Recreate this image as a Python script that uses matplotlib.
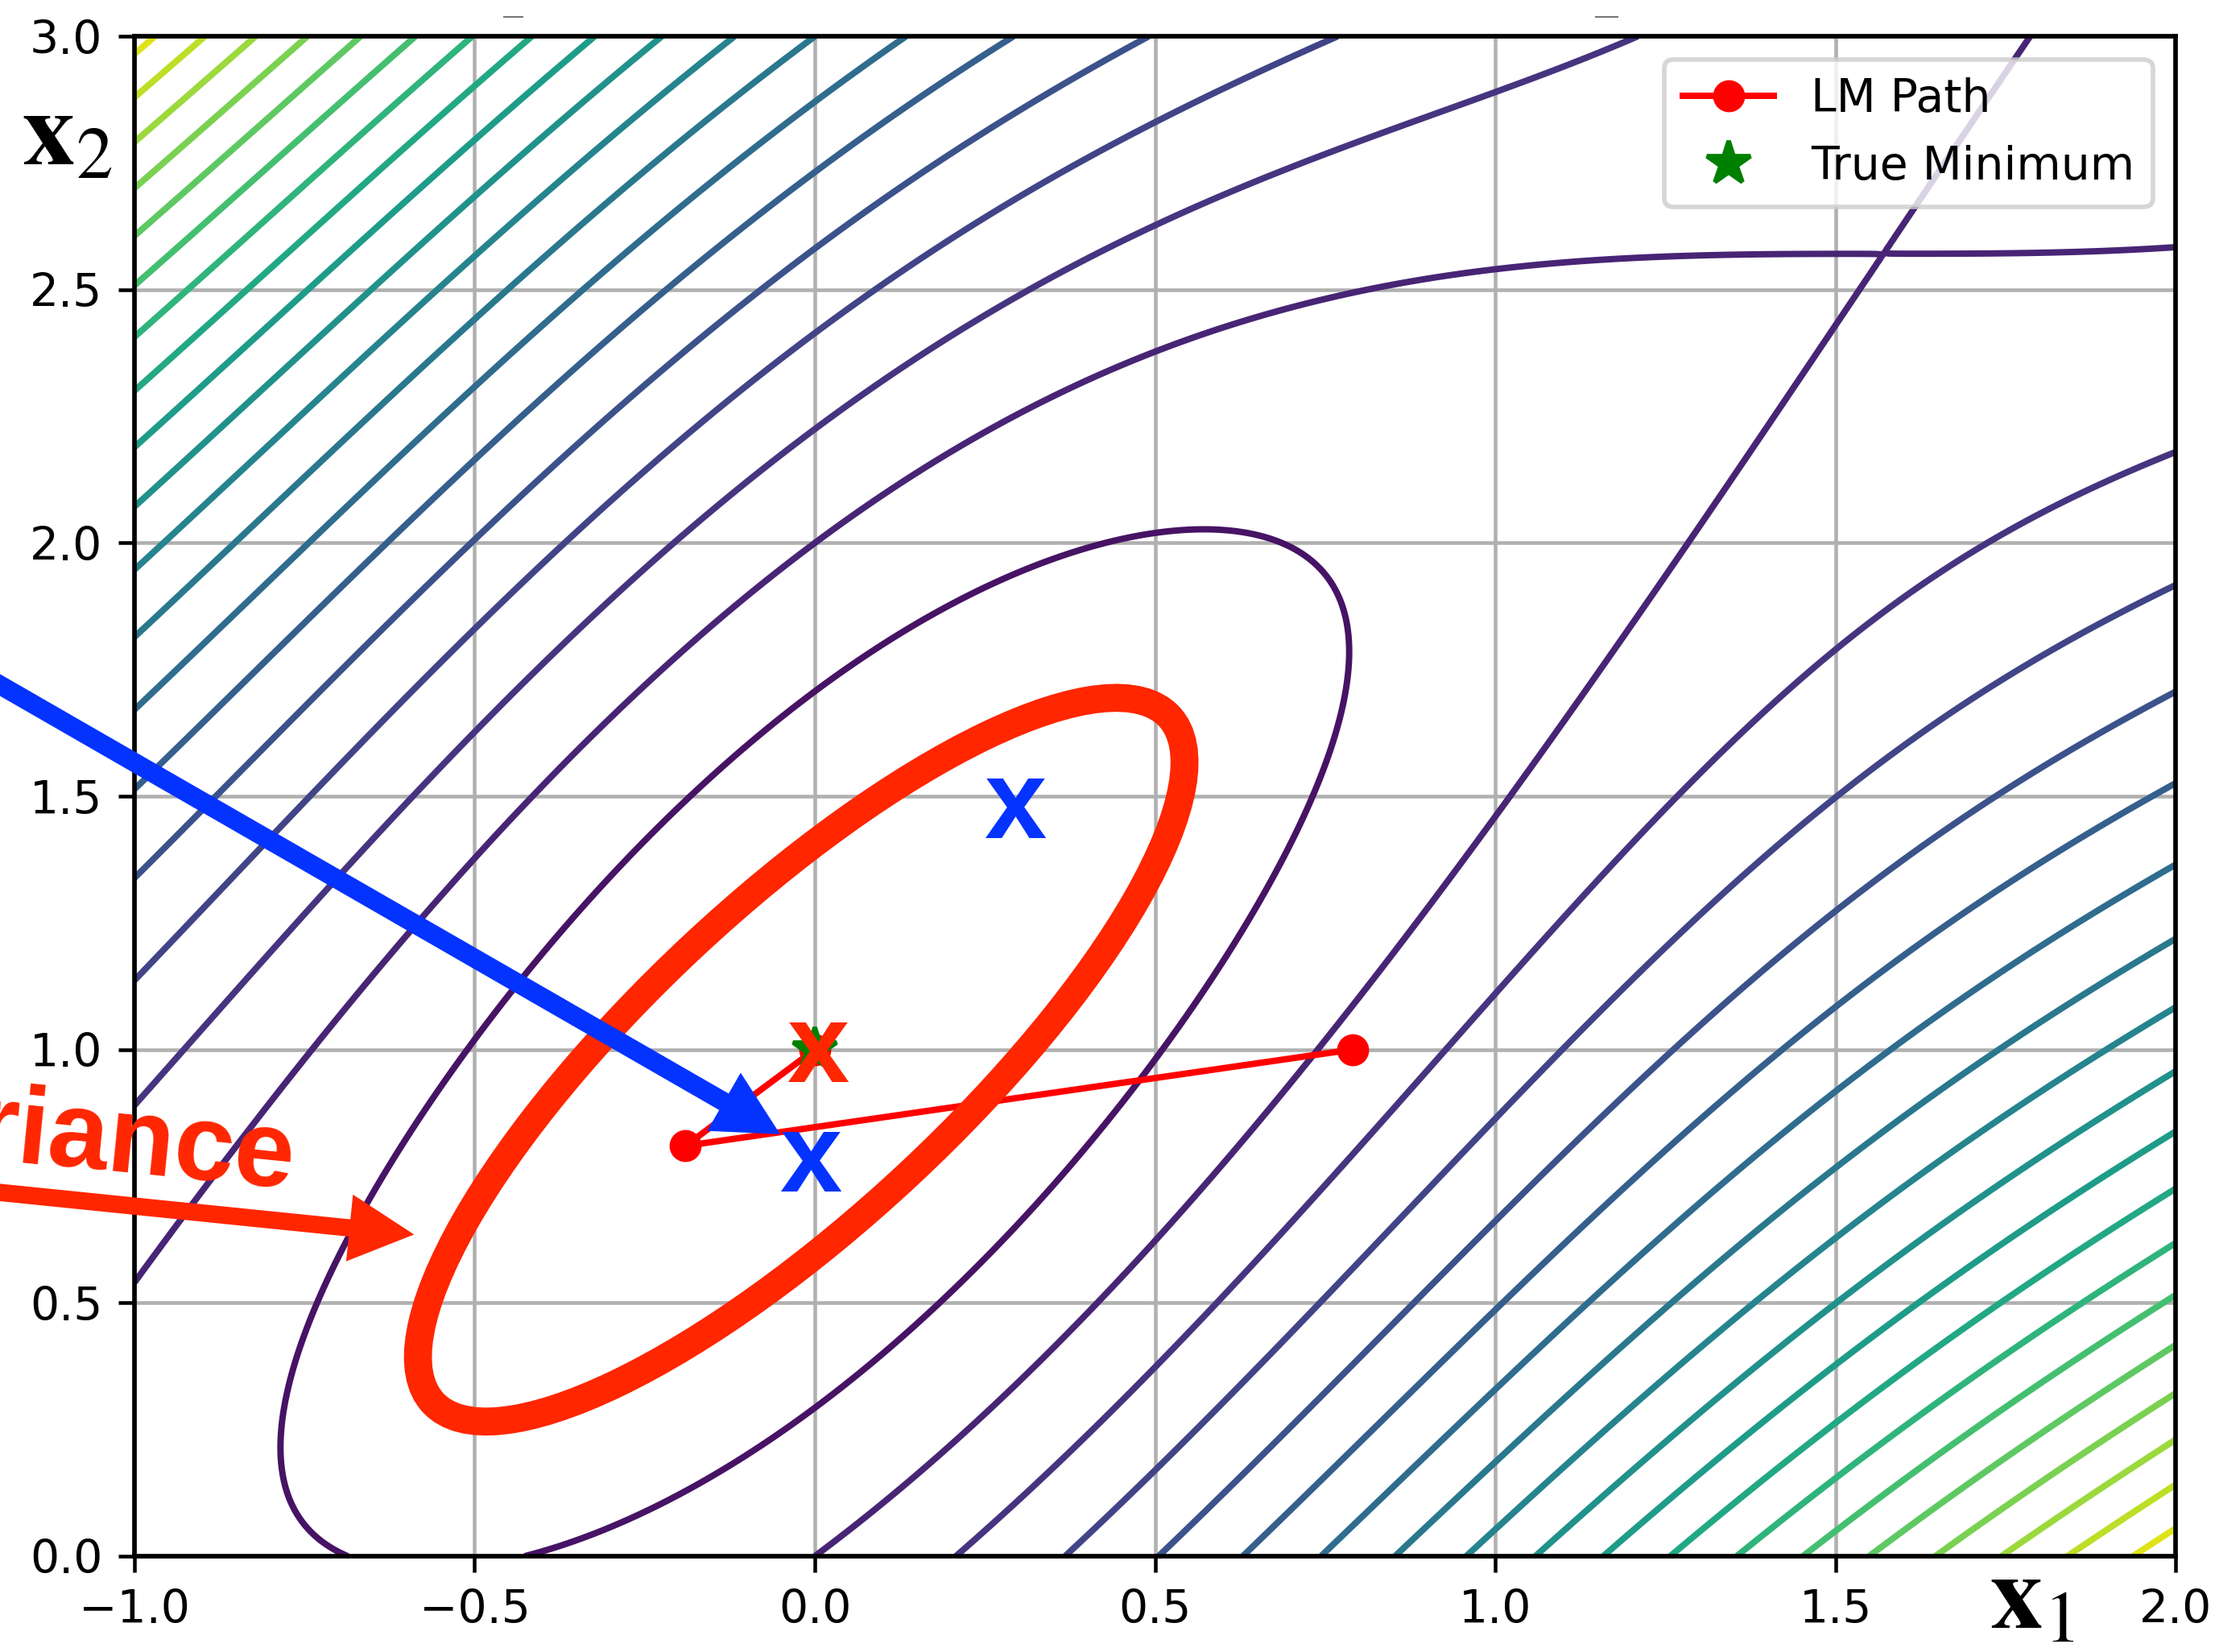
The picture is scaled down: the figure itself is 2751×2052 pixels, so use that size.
import numpy as np
import matplotlib
matplotlib.use("Agg")
import matplotlib.pyplot as plt
import matplotlib.transforms as mtransforms
from matplotlib.patches import Ellipse, FancyArrowPatch, ArrowStyle
from matplotlib.lines import Line2D

plt.rcParams['mathtext.fontset'] = 'stix'

# --- data ---
x1_range = [-1.0, 2.0]
x2_range = [0.0, 3.0]
path_x1 = [0.79, -0.19, 0.0]      # LM iterates
path_x2 = [1.0, 0.81, 1.0]
true_min = [0.0, 1.0]

# annotation spots (data coords)
blue_marks = [(0.294, 1.417), (-0.006, 0.720)]
red_mark = (0.004, 0.936)
ell_center = (-0.02, 0.98)


def cost(x1, x2):
    # residuals r1 = x2 - x1 - 1, r2 = sin(x1)
    return (x2 - x1 - 1) ** 2 + np.sin(x1) ** 2


S = 4.09  # screenshot was upscaled from an 8x6 figure
RED = '#ff2600'
BLUE = '#0433ff'

fig = plt.figure(figsize=(27.51, 20.52), dpi=100)
ax = fig.add_axes([0.0607, 0.058, 0.9215, 0.920])

g1 = np.linspace(x1_range[0], x1_range[1], 500)
g2 = np.linspace(x2_range[0], x2_range[1], 500)
X1, X2 = np.meshgrid(g1, g2)
Z = cost(X1, X2)

ax.contour(X1, X2, Z, levels=20, cmap='viridis', linewidths=1.4 * S)
ax.plot(path_x1, path_x2, 'o-', color='red', lw=1.4 * S, ms=6 * S, mew=1.0 * S,
        label='LM Path')
ax.plot(true_min[0], true_min[1], '*', color='green', ms=10 * S, mew=1.0 * S,
        label='True Minimum')

ax.set_xlim(x1_range)
ax.set_ylim(x2_range)
ax.grid(True, lw=0.8 * S)
ax.tick_params(labelsize=10 * S, length=3.5 * S, width=0.8 * S, pad=3.5 * S)
for sp in ax.spines.values():
    sp.set_linewidth(1.0 * S)
leg = ax.legend(loc='upper right', fontsize=10 * S)
leg.get_frame().set_linewidth(1.0 * S)

# --- overlays drawn on top ---
trans = fig.dpi_scale_trans + mtransforms.ScaledTranslation(ell_center[0], ell_center[1], ax.transData)
ell = Ellipse((0, 0), 12.5, 3.9, angle=43, fill=False, ec=RED, lw=25,
              transform=trans, zorder=5)
fig.add_artist(ell)

red_arrow = FancyArrowPatch((-1.44, 0.751), (-0.589, 0.635),
                            arrowstyle=ArrowStyle('simple', head_length=5.8, head_width=6.0, tail_width=1.55),
                            mutation_scale=10, color=RED, lw=0, shrinkA=0, shrinkB=0,
                            transform=ax.transData, zorder=5)
fig.add_artist(red_arrow)

fig.text(-0.769, 0.7245, 'Covariance', transform=ax.transData, ha='right', va='baseline',
         rotation=-5.7, rotation_mode='anchor', fontsize=97, fontweight='bold',
         family='Liberation Sans', color=RED, zorder=6)

blue_arrow = FancyArrowPatch((-1.44, 1.907), (-0.051, 0.833),
                             arrowstyle=ArrowStyle('simple', head_length=5.8, head_width=6.0, tail_width=1.7),
                             mutation_scale=10, color=BLUE, lw=0, shrinkA=0, shrinkB=0,
                             transform=ax.transData, zorder=7)
fig.add_artist(blue_arrow)

for bx, by in blue_marks:
    fig.text(bx, by, 'x', transform=ax.transData, ha='center', va='baseline',
             fontsize=100, fontweight='bold', family='Liberation Sans', color=BLUE, zorder=8)
fig.text(red_mark[0], red_mark[1], 'x', transform=ax.transData, ha='center', va='baseline',
         fontsize=100, fontweight='bold', family='Liberation Sans', color=RED, zorder=8)

# axis names
fig.text(27 / 2751, 1 - 205 / 2052, r'$\mathbf{x}_2$', fontsize=94, ha='left', va='baseline')
fig.text(2471 / 2751, 1 - 2022 / 2052, r'$\mathbf{x}_1$', fontsize=94, ha='left', va='baseline')

# small marks left over at the top edge
for xa, xb in [(626, 649), (1982, 2009)]:
    fig.add_artist(Line2D([xa / 2751, xb / 2751], [1 - 21 / 2052] * 2,
                          transform=fig.transFigure, color='#777777', lw=1.5))

fig.savefig('out.png', dpi=100)
